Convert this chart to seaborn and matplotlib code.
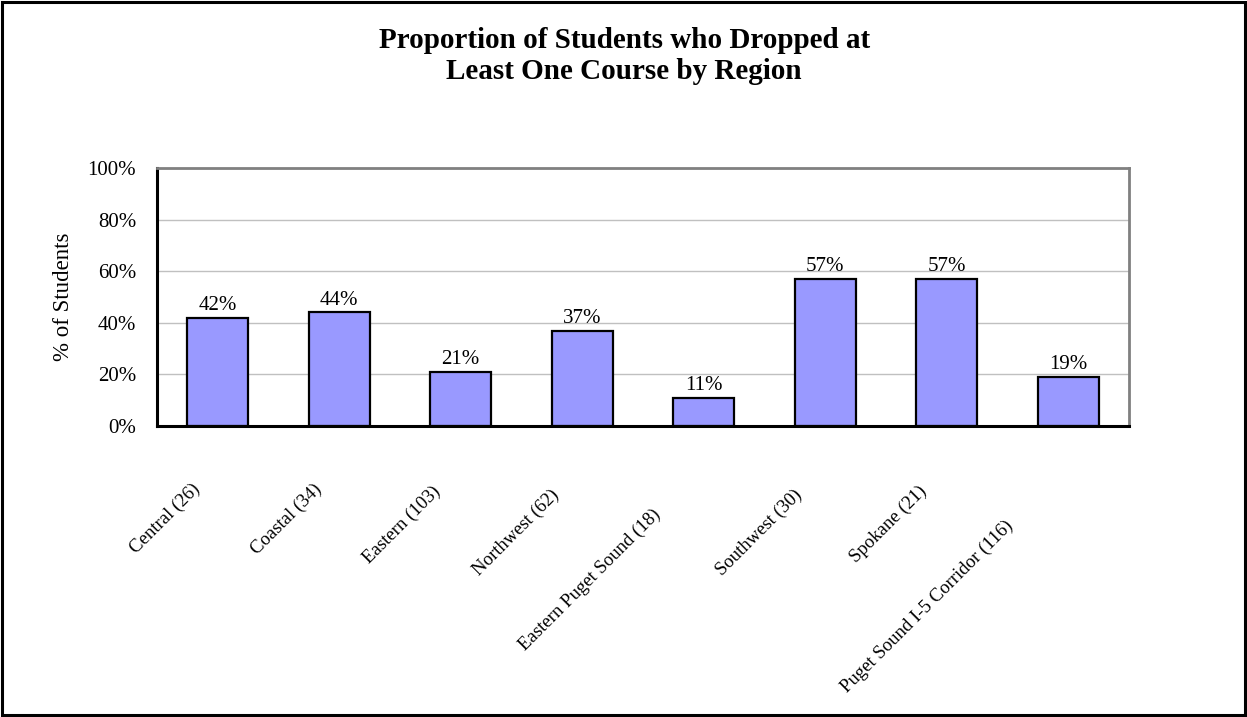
import matplotlib
matplotlib.use("Agg")
import matplotlib.pyplot as plt
import matplotlib.transforms as mtransforms
from matplotlib.patches import Rectangle
from matplotlib.ticker import MultipleLocator, PercentFormatter
import seaborn as sns
import pandas as pd

regions = [
    "Central (26)", "Coastal (34)", "Eastern (103)", "Northwest (62)",
    "Eastern Puget Sound (18)", "Southwest (30)", "Spokane (21)",
    "Puget Sound I-5 Corridor (116)",
]
pct_dropped = [42, 44, 21, 37, 11, 57, 57, 19]

title = "Proportion of Students who Dropped at\nLeast One Course by Region"
y_label = "% of Students"

sns.set_theme(style="white")
plt.rcParams["font.family"] = ["Liberation Serif", "DejaVu Serif"]

df = pd.DataFrame({"region": regions, "pct": pct_dropped})

W, H = 1247, 717
fig = plt.figure(figsize=(W / 100, H / 100), dpi=100)
ax = fig.add_axes([157 / W, 1 - 426 / H, (1129 - 157) / W, (426 - 168) / H])

sns.barplot(data=df, x="region", y="pct", order=regions, color="#9999FF",
            saturation=1, width=0.5, edgecolor="black", linewidth=1.6, ax=ax)

ax.set_xlim(-0.5, len(regions) - 0.5)
ax.set_ylim(0, 100)
ax.yaxis.set_major_locator(MultipleLocator(20))
ax.yaxis.set_major_formatter(PercentFormatter(decimals=0))
ax.grid(axis="y", color="#C0C0C0", linewidth=1.0)
ax.set_axisbelow(True)

for side in ("left", "bottom"):
    ax.spines[side].set_color("black")
    ax.spines[side].set_linewidth(2.2)
for side in ("top", "right"):
    ax.spines[side].set_color("#808080")
    ax.spines[side].set_linewidth(2.0)

ax.tick_params(axis="y", length=0, pad=15, labelsize=15, colors="black")
ax.tick_params(axis="x", length=0, pad=0, labelsize=13.5, colors="black")

ax.set_xlabel("")
ax.set_ylabel(y_label, fontsize=16.5, color="black", labelpad=10)

# Rotated category labels; longer labels hang further down-left
ax.set_xticks(range(len(regions)))
ax.set_xticklabels(regions, rotation=45, ha="right", va="center",
                   rotation_mode="anchor")
renderer = fig.canvas.get_renderer()
lengths = []
for lbl in ax.get_xticklabels():
    w, _, _ = renderer.get_text_width_height_descent(
        lbl.get_text(), lbl.get_fontproperties(), ismath=False)
    lengths.append(w)
base_len = min(lengths)
for lbl, L in zip(ax.get_xticklabels(), lengths):
    extra = 0.26 * (L - base_len)
    shift = mtransforms.ScaledTranslation((-20 - extra) / 100, (-60 - extra) / 100,
                                          fig.dpi_scale_trans)
    lbl.set_transform(lbl.get_transform() + shift)

# Value labels above bars
for i, v in enumerate(pct_dropped):
    ax.annotate(f"{v}%", xy=(i, v), xytext=(0, 2), textcoords="offset points",
                ha="center", va="bottom", fontsize=15, color="black")

fig.text(0.5005, 1 - 27 / H, title, ha="center", va="top",
         fontsize=21, fontweight="bold", linespacing=1.2, color="black")

# Chart-area border
fig.patches.append(Rectangle((2 / W, 2 / H), 1 - 4 / W, 1 - 4 / H,
                             transform=fig.transFigure, fill=False,
                             edgecolor="black", linewidth=2.2))

fig.savefig("out.png", dpi=100, facecolor="white")
